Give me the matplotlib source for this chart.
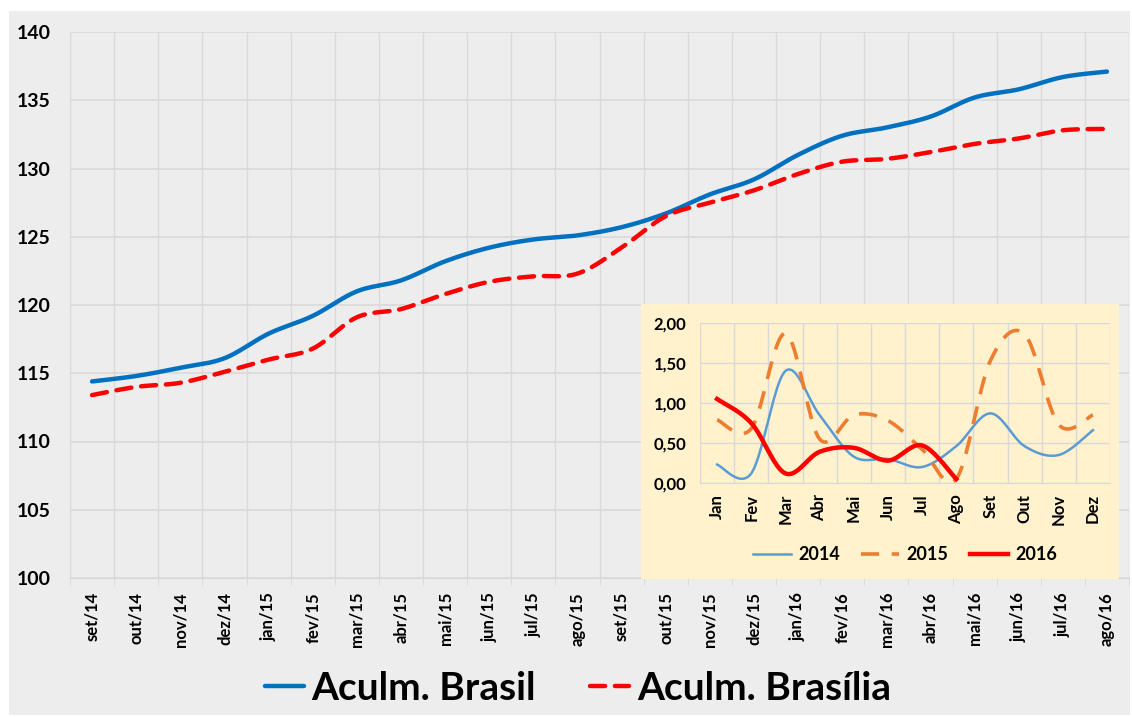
import numpy as np
import matplotlib
matplotlib.use("Agg")
import matplotlib.pyplot as plt
from matplotlib.patches import Rectangle

plt.rcParams['font.family'] = ['Lato', 'DejaVu Sans']

# main chart data
months = ["set/14", "out/14", "nov/14", "dez/14", "jan/15", "fev/15", "mar/15", "abr/15",
          "mai/15", "jun/15", "jul/15", "ago/15", "set/15", "out/15", "nov/15", "dez/15",
          "jan/16", "fev/16", "mar/16", "abr/16", "mai/16", "jun/16", "jul/16", "ago/16"]
brasil = [114.4, 114.8, 115.4, 116.1, 117.9, 119.2, 121.0, 121.8, 123.2, 124.2, 124.8, 125.1,
          125.7, 126.7, 128.1, 129.2, 131.0, 132.4, 133.0, 133.8, 135.2, 135.8, 136.7, 137.1]
brasilia = [113.4, 114.0, 114.3, 115.1, 116.0, 116.8, 119.1, 119.7, 120.8, 121.7, 122.1, 122.3,
            124.2, 126.5, 127.5, 128.4, 129.6, 130.5, 130.7, 131.2, 131.8, 132.2, 132.8, 132.9]
yticks_main = [100, 105, 110, 115, 120, 125, 130, 135, 140]

# inset data (monthly variation)
meses = ["Jan", "Fev", "Mar", "Abr", "Mai", "Jun", "Jul", "Ago", "Set", "Out", "Nov", "Dez"]
v2014 = [0.23, 0.12, 1.40, 0.85, 0.33, 0.30, 0.20, 0.46, 0.87, 0.46, 0.35, 0.66]
v2015 = [0.79, 0.68, 1.87, 0.55, 0.85, 0.78, 0.42, 0.05, 1.53, 1.86, 0.73, 0.85]
v2016 = [1.05, 0.75, 0.12, 0.39, 0.44, 0.28, 0.47, 0.05]
yticks_ins = [0, 0.5, 1.0, 1.5, 2.0]
ylabels_ins = ["0,00", "0,50", "1,00", "1,50", "2,00"]


def smooth(y, n=25):
    """Excel-like smoothed line (Bezier through the points)."""
    p = np.column_stack([np.arange(len(y)), np.array(y, dtype=float)])
    out = []
    for i in range(len(p) - 1):
        p0 = p[i - 1] if i > 0 else p[i]
        p1, p2 = p[i], p[i + 1]
        p3 = p[i + 2] if i + 2 < len(p) else p[i + 1]
        c1 = p1 + (p2 - p0) / 6
        c2 = p2 - (p3 - p1) / 6
        t = np.linspace(0, 1, n)[:, None]
        seg = (1 - t) ** 3 * p1 + 3 * (1 - t) ** 2 * t * c1 + 3 * (1 - t) * t ** 2 * c2 + t ** 3 * p2
        out.append(seg if i == 0 else seg[1:])
    s = np.vstack(out)
    return s[:, 0], s[:, 1]


W, H = 1132, 717
fig = plt.figure(figsize=(W / 100, H / 100), dpi=100)
fig.patch.set_facecolor("white")
fig.patches.append(Rectangle((9 / W, 2 / H), 1121 / W, 704 / H, transform=fig.transFigure,
                             facecolor="#EDEDED", edgecolor="none", zorder=-10))


def px_axes(x0, y0, x1, y1, **kw):
    return fig.add_axes([x0 / W, (H - y1) / H, (x1 - x0) / W, (y1 - y0) / H], **kw)


grid_c = "#D9D9D9"

ax = px_axes(70, 32, 1129, 578)
ax.set_facecolor("#EDEDED")
xb, yb = smooth(brasil)
xr, yr = smooth(brasilia)
ax.plot(xb, yb, color="#0070C0", lw=3.2, solid_capstyle="round", label="Aculm. Brasil", zorder=3)
ax.plot(xr, yr, color="#FF0000", lw=3.2, dashes=(3.4, 2.2), dash_capstyle="round",
        label="Aculm. Brasília", zorder=3)
ax.set_xlim(-0.5, len(months) - 0.5)
ax.set_ylim(100, 140)
ax.set_yticks(yticks_main)
ax.set_yticklabels([str(v) for v in yticks_main], fontsize=14, fontweight="bold")
ax.set_xticks(range(len(months)))
ax.set_xticklabels(months, rotation=90, fontsize=12, fontweight="bold")
ax.tick_params(axis="y", length=0, pad=14)
ax.tick_params(axis="x", length=0, pad=10)
ax.set_xticks(np.arange(-0.5, len(months)), minor=True)
ax.tick_params(axis="x", which="minor", length=6, color=grid_c)
ax.grid(True, which="minor", axis="x", color=grid_c, lw=1)
ax.grid(True, which="major", axis="y", color=grid_c, lw=1.2)
for s in ax.spines.values():
    s.set_visible(False)
ax.spines["bottom"].set_visible(True)
ax.spines["bottom"].set_color(grid_c)

leg = fig.legend(loc="center", bbox_to_anchor=(578 / W, 1 - 688 / H), ncol=2, frameon=False,
                 prop={"weight": "bold", "size": 28},
                 handlelength=1.0, handletextpad=0.2, columnspacing=1.4)

# inset box
box = px_axes(641, 304, 1119, 579)
box.set_facecolor("#FFF2CC")
box.set_xticks([])
box.set_yticks([])
for s in box.spines.values():
    s.set_visible(False)
box.set_zorder(5)

ins = px_axes(700, 323, 1110, 483)
ins.set_zorder(6)
ins.patch.set_alpha(0)
x1, y1 = smooth(v2014)
x2, y2 = smooth(v2015)
x3, y3 = smooth(v2016)
ins.plot(x1, y1, color="#5B9BD5", lw=1.8, label="2014")
ins.plot(x2, y2, color="#ED7D31", lw=2.6, dashes=(5, 3.5), label="2015")
ins.plot(x3, y3, color="#FF0000", lw=3.2, label="2016")
ins.set_xlim(-0.5, 11.5)
ins.set_ylim(0, 2)
ins.set_yticks(yticks_ins)
ins.set_yticklabels(ylabels_ins, fontsize=12, fontweight="bold")
ins.set_xticks(range(12))
ins.set_xticklabels(meses, rotation=90, fontsize=12, fontweight="bold")
ins.set_xticks(np.arange(-0.5, 12), minor=True)
ins.tick_params(axis="both", which="both", length=0)
ins.tick_params(axis="y", pad=10)
ins.tick_params(axis="x", pad=8)
ins.grid(True, which="minor", axis="x", color=grid_c, lw=1)
ins.grid(True, which="major", axis="y", color=grid_c, lw=1)
for s in ins.spines.values():
    s.set_visible(False)
ins.spines["bottom"].set_visible(True)
ins.spines["bottom"].set_color(grid_c)
ins.legend(loc="center", bbox_to_anchor=(0.5, -0.45), ncol=3, frameon=False,
           prop={"weight": "bold", "size": 13}, handlelength=2.1, handletextpad=0.4,
           columnspacing=1.2)

fig.savefig("out.png", dpi=100, facecolor=fig.get_facecolor())
